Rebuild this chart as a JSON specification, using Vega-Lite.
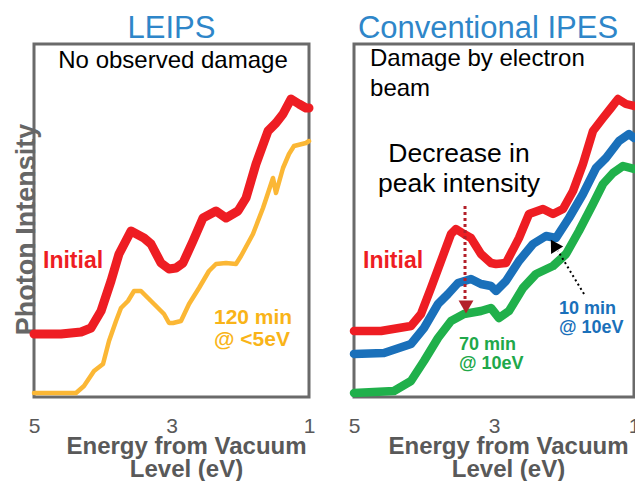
{
  "$schema": "https://vega.github.io/schema/vega-lite/v6.json",
  "padding": {"left": 10, "top": 11, "right": 0, "bottom": 0},
  "background": "white",
  "spacing": 45,
  "bounds": "flush",
  "resolve": {"scale": {"color": "independent", "strokeWidth": "independent", "x": "independent", "y": "independent"}},
  "config": {
    "font": "Liberation Sans",
    "view": {"stroke": "#6a6a6a", "strokeWidth": 3},
    "title": {"fontSize": 31, "fontWeight": "normal", "color": "#2E86C9", "anchor": "middle", "frame": "group", "baseline": "alphabetic", "offset": -1},
    "axis": {"grid": false, "ticks": false, "domain": false}
  },
  "datasets": {
    "leips": [
      {"s": "Initial", "e": 5.0, "i": 63}, {"s": "Initial", "e": 4.607, "i": 63}, {"s": "Initial", "e": 4.316, "i": 65},
      {"s": "Initial", "e": 4.171, "i": 69}, {"s": "Initial", "e": 4.025, "i": 86}, {"s": "Initial", "e": 3.88, "i": 116},
      {"s": "Initial", "e": 3.764, "i": 143}, {"s": "Initial", "e": 3.589, "i": 166}, {"s": "Initial", "e": 3.4, "i": 159},
      {"s": "Initial", "e": 3.298, "i": 153}, {"s": "Initial", "e": 3.153, "i": 134}, {"s": "Initial", "e": 3.036, "i": 128},
      {"s": "Initial", "e": 2.935, "i": 129}, {"s": "Initial", "e": 2.833, "i": 134}, {"s": "Initial", "e": 2.687, "i": 156},
      {"s": "Initial", "e": 2.542, "i": 179}, {"s": "Initial", "e": 2.353, "i": 186}, {"s": "Initial", "e": 2.207, "i": 179},
      {"s": "Initial", "e": 2.033, "i": 186}, {"s": "Initial", "e": 1.916, "i": 199}, {"s": "Initial", "e": 1.771, "i": 233},
      {"s": "Initial", "e": 1.596, "i": 266}, {"s": "Initial", "e": 1.48, "i": 274}, {"s": "Initial", "e": 1.378, "i": 283},
      {"s": "Initial", "e": 1.262, "i": 298}, {"s": "Initial", "e": 1.145, "i": 293}, {"s": "Initial", "e": 1.044, "i": 289},
      {"s": "Initial", "e": 1.0, "i": 289},
      {"s": "120 min", "e": 5.0, "i": 4}, {"s": "120 min", "e": 4.389, "i": 4}, {"s": "120 min", "e": 4.273, "i": 11},
      {"s": "120 min", "e": 4.127, "i": 26}, {"s": "120 min", "e": 3.996, "i": 33}, {"s": "120 min", "e": 3.909, "i": 56},
      {"s": "120 min", "e": 3.807, "i": 76}, {"s": "120 min", "e": 3.735, "i": 89}, {"s": "120 min", "e": 3.633, "i": 96},
      {"s": "120 min", "e": 3.545, "i": 106}, {"s": "120 min", "e": 3.444, "i": 106}, {"s": "120 min", "e": 3.342, "i": 99},
      {"s": "120 min", "e": 3.196, "i": 89}, {"s": "120 min", "e": 3.109, "i": 83}, {"s": "120 min", "e": 3.036, "i": 74},
      {"s": "120 min", "e": 2.978, "i": 74}, {"s": "120 min", "e": 2.862, "i": 76}, {"s": "120 min", "e": 2.745, "i": 93},
      {"s": "120 min", "e": 2.6, "i": 109}, {"s": "120 min", "e": 2.455, "i": 126}, {"s": "120 min", "e": 2.353, "i": 133},
      {"s": "120 min", "e": 2.207, "i": 134}, {"s": "120 min", "e": 2.062, "i": 133}, {"s": "120 min", "e": 1.989, "i": 141},
      {"s": "120 min", "e": 1.815, "i": 163}, {"s": "120 min", "e": 1.669, "i": 189}, {"s": "120 min", "e": 1.625, "i": 198},
      {"s": "120 min", "e": 1.524, "i": 219}, {"s": "120 min", "e": 1.48, "i": 204}, {"s": "120 min", "e": 1.378, "i": 229},
      {"s": "120 min", "e": 1.291, "i": 243}, {"s": "120 min", "e": 1.218, "i": 251}, {"s": "120 min", "e": 1.044, "i": 254},
      {"s": "120 min", "e": 1.0, "i": 256}
    ],
    "ipes": [
      {"s": "Initial", "e": 5.0, "i": 66}, {"s": "Initial", "e": 4.614, "i": 66}, {"s": "Initial", "e": 4.186, "i": 71},
      {"s": "Initial", "e": 4.043, "i": 83}, {"s": "Initial", "e": 3.9, "i": 109}, {"s": "Initial", "e": 3.757, "i": 136},
      {"s": "Initial", "e": 3.614, "i": 163}, {"s": "Initial", "e": 3.543, "i": 168}, {"s": "Initial", "e": 3.429, "i": 163},
      {"s": "Initial", "e": 3.329, "i": 159}, {"s": "Initial", "e": 3.186, "i": 143}, {"s": "Initial", "e": 3.043, "i": 134},
      {"s": "Initial", "e": 2.971, "i": 133}, {"s": "Initial", "e": 2.829, "i": 134}, {"s": "Initial", "e": 2.643, "i": 159},
      {"s": "Initial", "e": 2.5, "i": 183}, {"s": "Initial", "e": 2.3, "i": 188}, {"s": "Initial", "e": 2.157, "i": 183},
      {"s": "Initial", "e": 2.014, "i": 188}, {"s": "Initial", "e": 1.871, "i": 206}, {"s": "Initial", "e": 1.729, "i": 233},
      {"s": "Initial", "e": 1.586, "i": 266}, {"s": "Initial", "e": 1.443, "i": 279}, {"s": "Initial", "e": 1.329, "i": 289},
      {"s": "Initial", "e": 1.229, "i": 298}, {"s": "Initial", "e": 1.114, "i": 293}, {"s": "Initial", "e": 1.0, "i": 291},
      {"s": "10 min", "e": 5.0, "i": 43}, {"s": "10 min", "e": 4.571, "i": 44}, {"s": "10 min", "e": 4.186, "i": 53},
      {"s": "10 min", "e": 4.0, "i": 69}, {"s": "10 min", "e": 3.8, "i": 93}, {"s": "10 min", "e": 3.657, "i": 103},
      {"s": "10 min", "e": 3.514, "i": 114}, {"s": "10 min", "e": 3.329, "i": 118}, {"s": "10 min", "e": 3.186, "i": 113},
      {"s": "10 min", "e": 3.043, "i": 111}, {"s": "10 min", "e": 2.971, "i": 106}, {"s": "10 min", "e": 2.829, "i": 116},
      {"s": "10 min", "e": 2.643, "i": 136}, {"s": "10 min", "e": 2.443, "i": 153}, {"s": "10 min", "e": 2.257, "i": 161},
      {"s": "10 min", "e": 2.114, "i": 159}, {"s": "10 min", "e": 1.929, "i": 179}, {"s": "10 min", "e": 1.729, "i": 203},
      {"s": "10 min", "e": 1.543, "i": 229}, {"s": "10 min", "e": 1.4, "i": 239}, {"s": "10 min", "e": 1.214, "i": 256},
      {"s": "10 min", "e": 1.071, "i": 263}, {"s": "10 min", "e": 1.0, "i": 259},
      {"s": "70 min", "e": 5.0, "i": 4}, {"s": "70 min", "e": 4.429, "i": 6}, {"s": "70 min", "e": 4.186, "i": 16},
      {"s": "70 min", "e": 4.0, "i": 36}, {"s": "70 min", "e": 3.8, "i": 59}, {"s": "70 min", "e": 3.614, "i": 76},
      {"s": "70 min", "e": 3.429, "i": 83}, {"s": "70 min", "e": 3.186, "i": 86}, {"s": "70 min", "e": 3.043, "i": 89},
      {"s": "70 min", "e": 2.929, "i": 79}, {"s": "70 min", "e": 2.786, "i": 86}, {"s": "70 min", "e": 2.586, "i": 109},
      {"s": "70 min", "e": 2.4, "i": 123}, {"s": "70 min", "e": 2.157, "i": 131}, {"s": "70 min", "e": 1.971, "i": 143},
      {"s": "70 min", "e": 1.786, "i": 166}, {"s": "70 min", "e": 1.586, "i": 193}, {"s": "70 min", "e": 1.443, "i": 213},
      {"s": "70 min", "e": 1.3, "i": 224}, {"s": "70 min", "e": 1.157, "i": 231}, {"s": "70 min", "e": 1.0, "i": 228}
    ]
  },
  "hconcat": [
    {
      "width": 275,
      "height": 353,
      "title": {"text": "LEIPS"},
      "encoding": {
        "x": {"field": "e", "type": "quantitative", "scale": {"domain": [5, 1], "nice": false, "zero": false},
          "axis": {"values": [5, 3, 1], "format": "d", "labelFlush": false, "labelOverlap": false, "labelFontSize": 21, "labelColor": "#595959", "labelPadding": 18,
            "title": ["Energy from Vacuum", "Level (eV)"], "titleFontSize": 24, "titleFontWeight": "bold", "titleColor": "#595959", "titleLineHeight": 23, "titleBaseline": "alphabetic", "titleY": 56, "titleX": 152}},
        "y": {"field": "i", "type": "quantitative", "scale": {"domain": [0, 353], "nice": false, "zero": false},
          "axis": {"labels": false, "title": "Photon Intensity", "titleFontSize": 27, "titleFontWeight": "bold", "titleColor": "#666666", "titleBaseline": "alphabetic", "titleX": 0, "titleY": 185}}
      },
      "layer": [
        {
          "data": {"name": "leips"},
          "mark": {"type": "line", "strokeCap": "round", "strokeJoin": "round"},
          "encoding": {
            "color": {"field": "s", "type": "nominal", "scale": {"domain": ["Initial", "120 min"], "range": ["#EE1D23", "#FBB735"]}, "legend": null},
            "strokeWidth": {"field": "s", "type": "nominal", "scale": {"domain": ["Initial", "120 min"], "range": [9, 4.5]}, "legend": null}
          }
        },
        {
          "data": {"values": [{"e": 2.978, "i": 329, "label": "No observed damage"}]},
          "mark": {"type": "text", "fontSize": 24, "color": "#000000", "align": "center", "baseline": "alphabetic"},
          "encoding": {"text": {"field": "label"}}
        },
        {
          "data": {"values": [{"e": 4.869, "i": 129, "label": "Initial"}]},
          "mark": {"type": "text", "fontSize": 23, "fontWeight": "bold", "color": "#EE1D23", "align": "left", "baseline": "alphabetic"},
          "encoding": {"text": {"field": "label"}}
        },
        {
          "data": {"values": [{"e": 2.382, "i": 73, "label": "120 min\n@ <5eV"}]},
          "mark": {"type": "text", "fontSize": 21, "fontWeight": "bold", "color": "#F9B418", "align": "left", "baseline": "alphabetic", "lineBreak": "\n", "lineHeight": 22},
          "encoding": {"text": {"field": "label"}}
        }
      ]
    },
    {
      "width": 280,
      "height": 353,
      "title": {"text": "Conventional IPES", "dx": -6},
      "encoding": {
        "x": {"field": "e", "type": "quantitative", "scale": {"domain": [5, 1], "nice": false, "zero": false},
          "axis": {"values": [5, 3, 1], "format": "d", "labelFlush": false, "labelOverlap": false, "labelFontSize": 21, "labelColor": "#595959", "labelPadding": 18,
            "title": ["Energy from Vacuum", "Level (eV)"], "titleFontSize": 24, "titleFontWeight": "bold", "titleColor": "#595959", "titleLineHeight": 23, "titleBaseline": "alphabetic", "titleY": 56, "titleX": 154}},
        "y": {"field": "i", "type": "quantitative", "scale": {"domain": [0, 353], "nice": false, "zero": false}, "axis": null}
      },
      "layer": [
        {
          "data": {"name": "ipes"},
          "mark": {"type": "line", "strokeCap": "round", "strokeJoin": "round", "strokeWidth": 8.5},
          "encoding": {
            "color": {"field": "s", "type": "nominal", "scale": {"domain": ["Initial", "10 min", "70 min"], "range": ["#EE1D23", "#1A70BA", "#20B04B"]}, "legend": null}
          }
        },
        {
          "data": {"values": [{"e": 3.414, "i": 191, "e2": 3.414, "i2": 98}]},
          "mark": {"type": "rule", "color": "#B3202A", "strokeWidth": 3, "strokeDash": [3, 3]},
          "encoding": {"x2": {"field": "e2"}, "y2": {"field": "i2"}}
        },
        {
          "data": {"values": [{"e": 3.4, "i": 90}]},
          "mark": {"type": "point", "shape": "triangle-down", "filled": true, "opacity": 1, "size": 220, "color": "#B3202A"},
          "encoding": {}
        },
        {
          "data": {"values": [{"e": 1.714, "i": 103, "e2": 2.086, "i2": 146}]},
          "mark": {"type": "rule", "color": "#000000", "strokeWidth": 2, "strokeDash": [2, 3]},
          "encoding": {"x2": {"field": "e2"}, "y2": {"field": "i2"}}
        },
        {
          "data": {"values": [{"e": 2.143, "i": 152}]},
          "mark": {"type": "point", "shape": "triangle-up", "filled": true, "opacity": 1, "size": 200, "color": "#000000", "angle": 329},
          "encoding": {}
        },
        {
          "data": {"values": [{"e": 4.771, "i": 331, "label": "Damage by electron\nbeam"}]},
          "mark": {"type": "text", "fontSize": 24, "color": "#000000", "align": "left", "baseline": "alphabetic", "lineBreak": "\n", "lineHeight": 30},
          "encoding": {"text": {"field": "label"}}
        },
        {
          "data": {"values": [{"e": 3.5, "i": 235, "label": "Decrease in\npeak intensity"}]},
          "mark": {"type": "text", "fontSize": 26.5, "color": "#000000", "align": "center", "baseline": "alphabetic", "lineBreak": "\n", "lineHeight": 30},
          "encoding": {"text": {"field": "label"}}
        },
        {
          "data": {"values": [{"e": 4.871, "i": 129, "label": "Initial"}]},
          "mark": {"type": "text", "fontSize": 23, "fontWeight": "bold", "color": "#EE1D23", "align": "left", "baseline": "alphabetic"},
          "encoding": {"text": {"field": "label"}}
        },
        {
          "data": {"values": [{"e": 3.5, "i": 47, "label": "70 min\n@ 10eV"}]},
          "mark": {"type": "text", "fontSize": 18, "fontWeight": "bold", "color": "#20A84A", "align": "left", "baseline": "alphabetic", "lineBreak": "\n", "lineHeight": 19},
          "encoding": {"text": {"field": "label"}}
        },
        {
          "data": {"values": [{"e": 2.071, "i": 83, "label": "10 min\n@ 10eV"}]},
          "mark": {"type": "text", "fontSize": 18, "fontWeight": "bold", "color": "#1A70BA", "align": "left", "baseline": "alphabetic", "lineBreak": "\n", "lineHeight": 19},
          "encoding": {"text": {"field": "label"}}
        }
      ]
    }
  ]
}
